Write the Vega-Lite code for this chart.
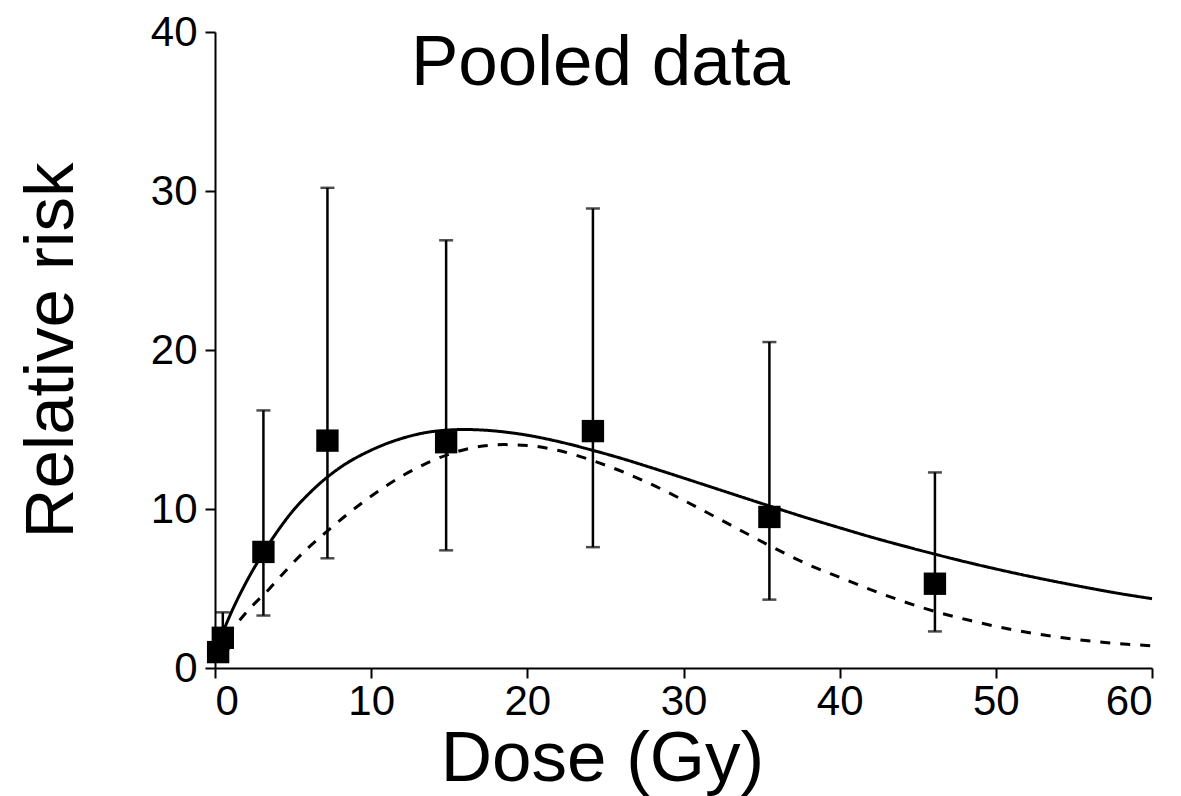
{
  "$schema": "https://vega.github.io/schema/vega-lite/v6.json",
  "width": 937,
  "height": 636,
  "autosize": {"type": "none"},
  "padding": {"left": 215, "top": 32, "right": 29, "bottom": 128},
  "background": "white",
  "title": {"text": "Pooled data", "fontSize": 71, "fontWeight": "normal", "color": "black", "font": "Liberation Sans", "anchor": "middle", "dx": -83, "dy": 87, "baseline": "alphabetic", "offset": -58},
  "config": {
    "view": {"stroke": null},
    "font": "Liberation Sans",
    "axis": {
      "grid": false,
      "domainColor": "black",
      "domainWidth": 2,
      "tickColor": "black",
      "tickWidth": 2,
      "tickSize": 10,
      "labelFontSize": 42,
      "labelColor": "black",
      "labelFont": "Liberation Sans",
      "titleFont": "Liberation Sans",
      "titleFontWeight": "normal",
      "titleColor": "black"
    }
  },
  "datasets": {
    "points": [
      {"dose": 0.2, "rr": 1.0, "lo": null, "hi": null},
      {"dose": 0.5, "rr": 1.9, "lo": 1.2, "hi": 3.5},
      {"dose": 3.1, "rr": 7.3, "lo": 3.3, "hi": 16.2},
      {"dose": 7.2, "rr": 14.3, "lo": 6.9, "hi": 30.2},
      {"dose": 14.8, "rr": 14.2, "lo": 7.4, "hi": 26.9},
      {"dose": 24.2, "rr": 14.9, "lo": 7.6, "hi": 28.9},
      {"dose": 35.5, "rr": 9.5, "lo": 4.3, "hi": 20.5},
      {"dose": 46.1, "rr": 5.3, "lo": 2.3, "hi": 12.3}
    ],
    "curves": [
      {"series": "fit", "dose": 0, "rr": 1.0},
      {"series": "fit", "dose": 1, "rr": 3.4},
      {"series": "fit", "dose": 2, "rr": 5.4},
      {"series": "fit", "dose": 3, "rr": 7.1},
      {"series": "fit", "dose": 4, "rr": 8.6},
      {"series": "fit", "dose": 5, "rr": 9.9},
      {"series": "fit", "dose": 6, "rr": 10.95},
      {"series": "fit", "dose": 7, "rr": 11.85},
      {"series": "fit", "dose": 8, "rr": 12.6},
      {"series": "fit", "dose": 10, "rr": 13.7},
      {"series": "fit", "dose": 12, "rr": 14.45},
      {"series": "fit", "dose": 14, "rr": 14.88},
      {"series": "fit", "dose": 16, "rr": 15.0},
      {"series": "fit", "dose": 18, "rr": 14.9},
      {"series": "fit", "dose": 20, "rr": 14.64},
      {"series": "fit", "dose": 22, "rr": 14.24},
      {"series": "fit", "dose": 24, "rr": 13.74},
      {"series": "fit", "dose": 26, "rr": 13.19},
      {"series": "fit", "dose": 28, "rr": 12.58},
      {"series": "fit", "dose": 30, "rr": 11.95},
      {"series": "fit", "dose": 32, "rr": 11.31},
      {"series": "fit", "dose": 35, "rr": 10.35},
      {"series": "fit", "dose": 38, "rr": 9.41},
      {"series": "fit", "dose": 40, "rr": 8.82},
      {"series": "fit", "dose": 42, "rr": 8.24},
      {"series": "fit", "dose": 45, "rr": 7.44},
      {"series": "fit", "dose": 48, "rr": 6.69},
      {"series": "fit", "dose": 50, "rr": 6.23},
      {"series": "fit", "dose": 52, "rr": 5.8},
      {"series": "fit", "dose": 55, "rr": 5.21},
      {"series": "fit", "dose": 58, "rr": 4.67},
      {"series": "fit", "dose": 60, "rr": 4.36},
      {"series": "alt", "dose": 0, "rr": 1.0},
      {"series": "alt", "dose": 2.1, "rr": 3.6},
      {"series": "alt", "dose": 3.5, "rr": 5.0},
      {"series": "alt", "dose": 4.7, "rr": 6.3},
      {"series": "alt", "dose": 5.9, "rr": 7.5},
      {"series": "alt", "dose": 7.0, "rr": 8.45},
      {"series": "alt", "dose": 8.2, "rr": 9.45},
      {"series": "alt", "dose": 9.5, "rr": 10.45},
      {"series": "alt", "dose": 10.8, "rr": 11.35},
      {"series": "alt", "dose": 12.2, "rr": 12.2},
      {"series": "alt", "dose": 13.6, "rr": 12.9},
      {"series": "alt", "dose": 15.0, "rr": 13.45},
      {"series": "alt", "dose": 16.5, "rr": 13.85},
      {"series": "alt", "dose": 18.5, "rr": 14.05},
      {"series": "alt", "dose": 20.0, "rr": 14.0},
      {"series": "alt", "dose": 21.9, "rr": 13.7},
      {"series": "alt", "dose": 24.6, "rr": 12.9},
      {"series": "alt", "dose": 27.4, "rr": 11.8},
      {"series": "alt", "dose": 30.2, "rr": 10.45},
      {"series": "alt", "dose": 33.0, "rr": 9.0},
      {"series": "alt", "dose": 35.7, "rr": 7.6},
      {"series": "alt", "dose": 38.0, "rr": 6.5},
      {"series": "alt", "dose": 40.0, "rr": 5.7},
      {"series": "alt", "dose": 42.6, "rr": 4.7},
      {"series": "alt", "dose": 45.6, "rr": 3.7},
      {"series": "alt", "dose": 48.3, "rr": 3.0},
      {"series": "alt", "dose": 51.1, "rr": 2.4},
      {"series": "alt", "dose": 54.3, "rr": 1.9},
      {"series": "alt", "dose": 57.0, "rr": 1.6},
      {"series": "alt", "dose": 60.0, "rr": 1.4}
    ]
  },
  "encoding": {
    "x": {"field": "dose", "type": "quantitative", "scale": {"domain": [0, 60], "nice": false},
      "axis": {"values": [0, 10, 20, 30, 40, 50, 60], "title": "Dose (Gy)", "titleFontSize": 71, "titlePadding": 2, "titleX": 387, "titleAlign": "center", "labelPadding": 3}}
  },
  "layer": [
    {
      "data": {"name": "curves"},
      "mark": {"type": "line", "color": "black", "strokeWidth": 3, "interpolate": "monotone"},
      "encoding": {
        "y": {"field": "rr", "type": "quantitative", "title": "Relative risk", "scale": {"domain": [0, 40], "nice": false},
          "axis": {"values": [0, 10, 20, 30, 40], "title": "Relative risk", "titleFontSize": 69, "titlePadding": 64, "labelPadding": 8}},
        "detail": {"field": "series"},
        "strokeDash": {"field": "series", "type": "nominal", "scale": {"domain": ["fit", "alt"], "range": [[1, 0], [10, 10]]}, "legend": null}
      }
    },
    {
      "data": {"name": "points"},
      "transform": [{"filter": "datum.hi != null"}],
      "mark": {"type": "errorbar", "ticks": {"size": 14, "color": "black", "thickness": 2.5}, "rule": {"color": "black", "strokeWidth": 2.5}},
      "encoding": {
        "y": {"field": "lo", "type": "quantitative", "title": "Relative risk"},
        "y2": {"field": "hi"}
      }
    },
    {
      "data": {"name": "points"},
      "mark": {"type": "square", "size": 500, "color": "black", "filled": true, "opacity": 1},
      "encoding": {
        "y": {"field": "rr", "type": "quantitative", "title": "Relative risk"}
      }
    }
  ]
}
